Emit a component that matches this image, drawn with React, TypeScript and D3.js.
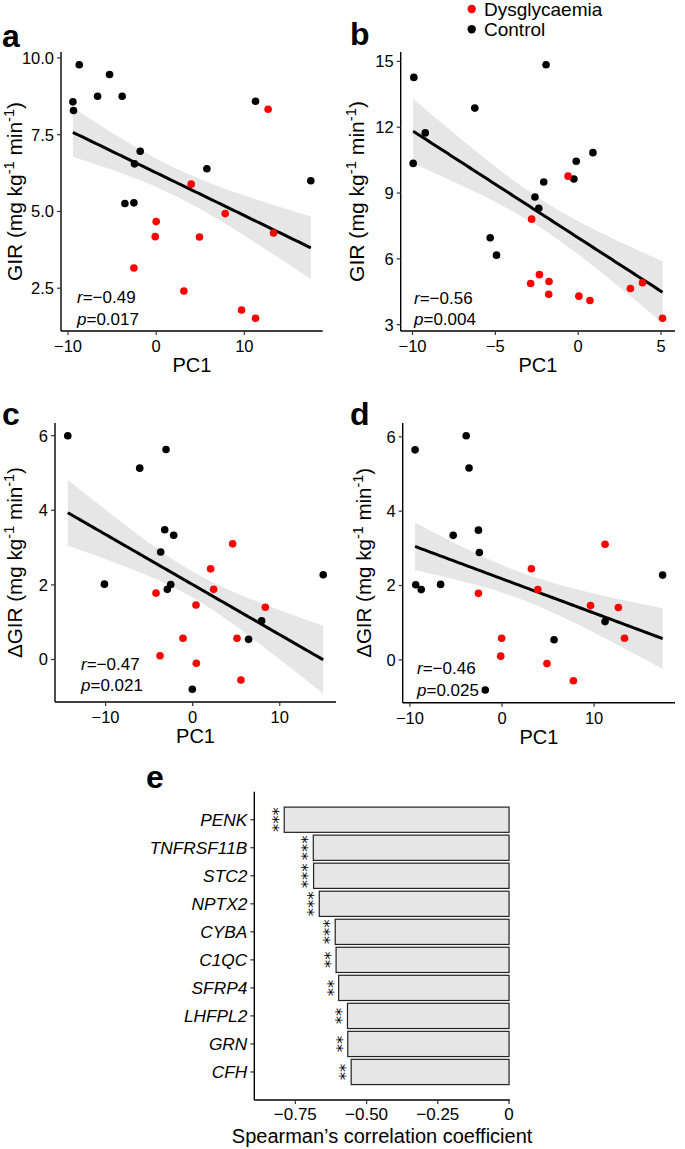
import React from "react";
import * as d3 from "d3";

// ---------- data ----------
const aCtrlX = [-8.73, -5.29, -9.45, -9.38, -6.65, -3.86, 11.27, -1.81, -2.46, 5.75, 17.54, -3.55, -2.53];
const aCtrlY = [9.78, 9.46, 8.57, 8.29, 8.75, 8.75, 8.59, 6.96, 6.55, 6.39, 6.0, 5.26, 5.28];
const aDysX = [12.7, 3.97, 7.83, 0.0, -0.11, 4.91, 13.31, -2.53, 3.14, 9.68, 11.27];
const aDysY = [8.33, 5.89, 4.93, 4.67, 4.18, 4.17, 4.3, 3.16, 2.41, 1.79, 1.52];

const bCtrlX = [-9.92, -1.94, -6.24, -9.23, -9.96, -0.12, 0.89, -0.26, -2.08, -2.61, -2.38, -5.31, -4.93];
const bCtrlY = [14.27, 14.85, 12.87, 11.74, 10.35, 10.45, 10.84, 9.64, 9.5, 8.82, 8.31, 6.96, 6.17];
const bDysX = [-0.61, -2.81, -2.87, -2.34, -1.76, -1.78, 0.04, 0.71, 3.15, 3.88, 5.09];
const bDysY = [9.77, 7.81, 4.88, 5.28, 4.97, 4.39, 4.3, 4.1, 4.65, 4.91, 3.29];

const cCtrlX = [-14.34, -3.06, -6.08, -3.21, -2.18, -3.67, -10.13, -2.52, -2.91, 14.99, 7.92, 6.42, -0.04];
const cCtrlY = [6.0, 5.63, 5.13, 3.48, 3.33, 2.88, 2.02, 2.01, 1.88, 2.27, 1.04, 0.54, -0.8];
const cDysX = [4.59, 2.06, 2.41, -4.21, 0.38, 8.34, -1.11, 5.09, -3.75, 0.42, 5.54];
const cDysY = [3.1, 2.43, 1.88, 1.78, 1.46, 1.4, 0.57, 0.57, 0.1, -0.1, -0.55];

const dCtrlX = [-9.44, -3.89, -3.58, -5.3, -2.56, -2.46, -9.37, -8.77, -6.67, 17.44, 11.19, 5.65, -1.82];
const dCtrlY = [5.65, 6.03, 5.16, 3.35, 3.49, 2.89, 2.02, 1.89, 2.03, 2.28, 1.03, 0.54, -0.81];
const dDysX = [11.19, 3.19, 3.89, -2.56, 9.61, 12.63, -0.04, 13.3, -0.14, 4.88, 7.75];
const dDysY = [3.11, 2.45, 1.89, 1.79, 1.46, 1.41, 0.58, 0.58, 0.1, -0.1, -0.56];

// half-width of the confidence band at the lowest PC1 value
const aBandHalf = 0.8;
const bBandHalf = 1.47;
const cBandHalf = 0.88;
const dBandHalf = 0.64;

const aTicksX = [-10, 0, 10];
const aTicksY = [2.5, 5, 7.5, 10];
const bTicksX = [-10, -5, 0, 5];
const bTicksY = [3, 6, 9, 12, 15];
const cdTicksX = [-10, 0, 10];
const cdTicksY = [0, 2, 4, 6];

const genes = ["PENK", "TNFRSF11B", "STC2", "NPTX2", "CYBA", "C1QC", "SFRP4", "LHFPL2", "GRN", "CFH"];
const rho = [-0.789, -0.687, -0.686, -0.666, -0.61, -0.607, -0.598, -0.567, -0.566, -0.554];
const stars = ["***", "***", "***", "***", "***", "**", "**", "**", "**", "**"];
const eTicks = [-0.75, -0.5, -0.25, 0];
const eDomain = [-0.894, 0.003];

const legendLabels = ["Dysglycaemia", "Control"];
const RED = "#ff0000";
const BLACK = "#000000";
const FONT = "'Liberation Sans', Arial, Helvetica, sans-serif";

const fmtTick = (v: number, dec: number) => {
  const s = Math.abs(v).toFixed(dec);
  return v < 0 ? "\u2212" + s : s;
};

function expand(vals: number[]) {
  const [lo, hi] = d3.extent(vals) as [number, number];
  const pad = (hi - lo) * 0.05;
  return [lo - pad, hi + pad];
}

function fit(xs: number[], ys: number[], halfAtMin: number) {
  const n = xs.length;
  const mx = d3.mean(xs)!;
  const my = d3.mean(ys)!;
  const sxx = d3.sum(xs, (x) => (x - mx) ** 2);
  const sxy = d3.sum(xs.map((x, i) => (x - mx) * (ys[i] - my)));
  const slope = sxy / sxx;
  const icpt = my - slope * mx;
  const [x0, x1] = d3.extent(xs) as [number, number];
  const seShape = (x: number) => Math.sqrt(1 / n + (x - mx) ** 2 / sxx);
  const k = halfAtMin / seShape(x0);
  const grid = d3.range(80).map((i) => x0 + ((x1 - x0) * i) / 79);
  return grid.map((x) => {
    const yh = icpt + slope * x;
    const hw = k * seShape(x);
    return { x, y: yh, lo: yh - hw, hi: yh + hw };
  });
}

type ScatterProps = {
  left: number; right: number; top: number; bottom: number;
  ctrlX: number[]; ctrlY: number[]; dysX: number[]; dysY: number[];
  bandHalf: number;
  ticksX: number[]; ticksY: number[]; yDec: number;
  yTitle: React.ReactNode; yTitleX: number; yTitleLen: number;
  label: string; labelX: number; labelY: number;
  rText: string; pText: string; annX: number; rY: number; pY: number;
};

function Scatter(p: ScatterProps) {
  const allX = [...p.ctrlX, ...p.dysX];
  const allY = [...p.ctrlY, ...p.dysY];
  const x = d3.scaleLinear().domain(expand(allX)).range([p.left, p.right]);
  const y = d3.scaleLinear().domain(expand(allY)).range([p.bottom, p.top]);
  const f = fit(allX, allY, p.bandHalf);
  const band = d3.area<any>().x((d) => x(d.x)).y0((d) => y(d.lo)).y1((d) => y(d.hi))(f)!;
  const line = d3.line<any>().x((d) => x(d.x)).y((d) => y(d.y))(f)!;
  const midX = (p.left + p.right) / 2;
  const midY = (p.top + p.bottom) / 2;
  return (
    <g>
      <path d={band} fill="#e6e6e6" stroke="none" />
      <path d={line} fill="none" stroke="#000" strokeWidth={3} />
      {p.ctrlX.map((v, i) => (
        <circle key={"c" + i} cx={x(v)} cy={y(p.ctrlY[i])} r={3.8} fill={BLACK} />
      ))}
      {p.dysX.map((v, i) => (
        <circle key={"d" + i} cx={x(v)} cy={y(p.dysY[i])} r={3.8} fill={RED} />
      ))}
      <line x1={p.left} x2={p.left} y1={p.top} y2={p.bottom} stroke="#000" strokeWidth={1.4} />
      <line x1={p.left} x2={p.right} y1={p.bottom} y2={p.bottom} stroke="#000" strokeWidth={1.4} />
      {p.ticksX.map((t) => (
        <g key={"tx" + t}>
          <line x1={x(t)} x2={x(t)} y1={p.bottom} y2={p.bottom + 4} stroke="#333" strokeWidth={1.2} />
          <text x={x(t)} y={p.bottom + 21} textAnchor="middle" fontSize={16.5} fill="#000">
            {fmtTick(t, 0)}
          </text>
        </g>
      ))}
      {p.ticksY.map((t) => (
        <g key={"ty" + t}>
          <line x1={p.left - 4} x2={p.left} y1={y(t)} y2={y(t)} stroke="#333" strokeWidth={1.2} />
          <text x={p.left - 7} y={y(t)} dy="0.36em" textAnchor="end" fontSize={16.5} fill="#000">
            {fmtTick(t, p.yDec)}
          </text>
        </g>
      ))}
      <text x={midX} y={p.bottom + 41} textAnchor="middle" fontSize={20}>PC1</text>
      <text
        transform={`translate(${p.yTitleX},${midY}) rotate(-90)`}
        textAnchor="middle"
        fontSize={20}
        textLength={p.yTitleLen}
        lengthAdjust="spacingAndGlyphs"
      >
        {p.yTitle}
      </text>
      <text x={p.labelX} y={p.labelY} fontSize={32} fontWeight="bold">{p.label}</text>
      <text x={p.annX} y={p.rY} fontSize={17}>
        <tspan fontStyle="italic">r</tspan>{p.rText}
      </text>
      <text x={p.annX} y={p.pY} fontSize={17}>
        <tspan fontStyle="italic">p</tspan>{p.pText}
      </text>
    </g>
  );
}

const girTitle = (
  <>
    GIR (mg kg<tspan fontSize={14} dy={-8}>-1</tspan>
    <tspan dy={8}> min</tspan>
    <tspan fontSize={14} dy={-8}>-1</tspan>
    <tspan dy={8}>)</tspan>
  </>
);
const dGirTitle = (
  <>
    {"\u0394"}GIR (mg kg<tspan fontSize={14} dy={-8}>-1</tspan>
    <tspan dy={8}> min</tspan>
    <tspan fontSize={14} dy={-8}>-1</tspan>
    <tspan dy={8}>)</tspan>
  </>
);

function BarPanel() {
  const left = 254.3, right = 509.9, top = 791.7, bottom = 1100;
  const x = d3.scaleLinear().domain(eDomain).range([left, right]);
  const y = d3.scaleBand<string>().domain(genes).range([top, bottom]).paddingInner(0.1).paddingOuter(0.55);
  const bw = y.bandwidth();
  return (
    <g>
      {genes.map((g, i) => {
        const cy = y(g)! + bw / 2;
        return (
          <g key={g}>
            <rect x={x(rho[i])} y={y(g)!} width={x(0) - x(rho[i])} height={bw} fill="#e6e6e6" stroke="#222" strokeWidth={1.2} />
            <text
              transform={`translate(${x(rho[i]) - 10},${cy}) rotate(-90)`}
              textAnchor="middle"
              dy="0.6em"
              fontSize={16.5}
              fontFamily="'DejaVu Sans', sans-serif"
              fill="#000"
            >
              {stars[i]}
            </text>
            <line x1={left - 4} x2={left} y1={cy} y2={cy} stroke="#333" strokeWidth={1.2} />
            <text x={left - 7} y={cy} dy="0.36em" textAnchor="end" fontSize={17.3} fontStyle="italic">
              {g}
            </text>
          </g>
        );
      })}
      <line x1={left} x2={left} y1={top} y2={bottom} stroke="#000" strokeWidth={1.4} />
      <line x1={left} x2={right} y1={bottom} y2={bottom} stroke="#000" strokeWidth={1.4} />
      {eTicks.map((t) => (
        <g key={t}>
          <line x1={x(t)} x2={x(t)} y1={bottom} y2={bottom + 4} stroke="#333" strokeWidth={1.2} />
          <text x={x(t)} y={bottom + 20} textAnchor="middle" fontSize={17}>
            {t === 0 ? "0" : fmtTick(t, 2)}
          </text>
        </g>
      ))}
      <text x={(left + right) / 2} y={bottom + 43} textAnchor="middle" fontSize={20}>
        Spearman{"\u2019"}s correlation coefficient
      </text>
      <text x={146} y={788} fontSize={32} fontWeight="bold">e</text>
    </g>
  );
}

export default function App() {
  return (
    <svg
      width={685}
      height={1149}
      style={{ position: "absolute", left: 0, top: 0, background: "#fff" }}
      fontFamily={FONT}
    >
      <rect x={0} y={0} width={685} height={1149} fill="#fff" />
      <Scatter
        left={61} right={322.7} top={52} bottom={331}
        ctrlX={aCtrlX} ctrlY={aCtrlY} dysX={aDysX} dysY={aDysY} bandHalf={aBandHalf}
        ticksX={aTicksX} ticksY={aTicksY} yDec={1}
        yTitle={girTitle} yTitleX={22} yTitleLen={179}
        label="a" labelX={2} labelY={47}
        rText={"=\u22120.49"} pText="=0.017" annX={77} rY={303} pY={324.5}
      />
      <Scatter
        left={400.7} right={675} top={52} bottom={331}
        ctrlX={bCtrlX} ctrlY={bCtrlY} dysX={bDysX} dysY={bDysY} bandHalf={bBandHalf}
        ticksX={bTicksX} ticksY={bTicksY} yDec={0}
        yTitle={girTitle} yTitleX={364} yTitleLen={181}
        label="b" labelX={350} labelY={45}
        rText={"=\u22120.56"} pText="=0.004" annX={414} rY={304} pY={325}
      />
      <Scatter
        left={55} right={336} top={423} bottom={702}
        ctrlX={cCtrlX} ctrlY={cCtrlY} dysX={cDysX} dysY={cDysY} bandHalf={cBandHalf}
        ticksX={cdTicksX} ticksY={cdTicksY} yDec={0}
        yTitle={dGirTitle} yTitleX={22} yTitleLen={191}
        label="c" labelX={2} labelY={425}
        rText={"=\u22120.47"} pText="=0.021" annX={81} rY={670} pY={691}
      />
      <Scatter
        left={402.7} right={675} top={423} bottom={702.7}
        ctrlX={dCtrlX} ctrlY={dCtrlY} dysX={dDysX} dysY={dDysY} bandHalf={dBandHalf}
        ticksX={cdTicksX} ticksY={cdTicksY} yDec={0}
        yTitle={dGirTitle} yTitleX={371} yTitleLen={190}
        label="d" labelX={350} labelY={425}
        rText={"=\u22120.46"} pText="=0.025" annX={417} rY={674} pY={696}
      />
      <BarPanel />
      {legendLabels.map((l, i) => (
        <g key={l}>
          <circle cx={471.7} cy={9 + i * 20.3} r={4.2} fill={i === 0 ? RED : BLACK} />
          <text x={484} y={9 + i * 20.3} dy="0.36em" fontSize={19}>{l}</text>
        </g>
      ))}
    </svg>
  );
}
